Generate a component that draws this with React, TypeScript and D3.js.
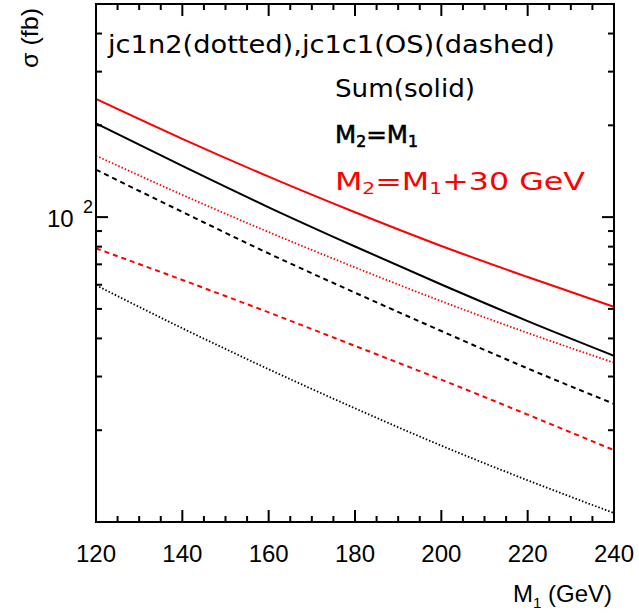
import React from "react";
import * as d3 from "d3";

const M1 = [120, 140, 160, 180, 200, 220, 240];
// M2 = M1 (black)
const blackDotted = [59.8, 43.2, 31.7, 23.6, 17.8, 13.7, 10.7];
const blackDashed = [143, 104, 76, 56.5, 42.3, 31.9, 24.4];
const blackSolid = [203, 147.2, 107.7, 80.1, 60.1, 45.6, 35.1];
// M2 = M1 + 30 GeV (red)
const redDotted = [159, 118.3, 89.3, 68.4, 53.0, 41.7, 33.3];
const redDashed = [79, 62.2, 48.7, 37.8, 29.3, 22.5, 17.2];
const redSolid = [244, 180.5, 135.7, 103.7, 80.4, 63.6, 50.8];

const xTickLabels = [120, 140, 160, 180, 200, 220, 240];
const yMinorTicks = [20, 30, 40, 50, 60, 70, 80, 90, 200, 300, 400];
const yMajorTick = 100;

const W = 639;
const H = 614;
const L = 96, R = 614, T = 4, B = 522;

export default function App() {
  const x = d3.scaleLinear().domain([120, 240]).range([L, R]);
  const y = d3.scaleLog().domain([10, 500]).range([B, T]);
  const line = (vals: number[]) =>
    d3
      .line<number>()
      .x((_, i) => x(M1[i]))
      .y((v) => y(v))
      .curve(d3.curveMonotoneX)(vals) || "";

  const series = [
    { vals: blackDotted, color: "black", dash: "1.5,2", w: 1.8 },
    { vals: blackDashed, color: "black", dash: "5,4", w: 2 },
    { vals: blackSolid, color: "black", dash: null, w: 2 },
    { vals: redDotted, color: "#ff0000", dash: "1.5,2", w: 1.8 },
    { vals: redDashed, color: "#ff0000", dash: "5,4", w: 2 },
    { vals: redSolid, color: "#ff0000", dash: null, w: 2 },
  ];

  const xMinor = d3.range(120, 241, 5);
  const axisFont = "'Liberation Sans', Arial, sans-serif";
  const legFont = "'DejaVu Sans', 'Liberation Sans', sans-serif";

  return (
    <svg
      width={W}
      height={H}
      style={{ position: "absolute", left: 0, top: 0, background: "white" }}
    >
      <rect x={0} y={0} width={W} height={H} fill="white" />
      <defs>
        <clipPath id="plot">
          <rect x={L} y={T} width={R - L} height={B - T} />
        </clipPath>
      </defs>
      <g clipPath="url(#plot)">
        {series.map((s, i) => (
          <path
            key={i}
            d={line(s.vals)}
            fill="none"
            stroke={s.color}
            strokeWidth={s.w}
            strokeDasharray={s.dash || undefined}
          />
        ))}
      </g>
      {/* ticks */}
      <g stroke="black" strokeWidth={2}>
        {xMinor.map((v) => {
          const len = v % 20 === 0 ? 12 : 6;
          return (
            <g key={v}>
              <line x1={x(v)} x2={x(v)} y1={B} y2={B - len} />
              <line x1={x(v)} x2={x(v)} y1={T} y2={T + len} />
            </g>
          );
        })}
        {yMinorTicks.map((v) => (
          <g key={v}>
            <line x1={L} x2={L + 6} y1={y(v)} y2={y(v)} />
            <line x1={R} x2={R - 6} y1={y(v)} y2={y(v)} />
          </g>
        ))}
        <line x1={L} x2={L + 12} y1={y(yMajorTick)} y2={y(yMajorTick)} />
        <line x1={R} x2={R - 12} y1={y(yMajorTick)} y2={y(yMajorTick)} />
      </g>
      <rect
        x={L}
        y={T}
        width={R - L}
        height={B - T}
        fill="none"
        stroke="black"
        strokeWidth={2}
      />
      {/* x tick labels */}
      {xTickLabels.map((v) => (
        <text
          key={v}
          x={x(v)}
          y={562}
          textAnchor="middle"
          fontFamily={axisFont}
          fontSize={24}
          fill="black"
        >
          {v}
        </text>
      ))}
      {/* y tick label 10^2 */}
      <text x={47} y={227} fontFamily={axisFont} fontSize={24} fill="black">
        10
      </text>
      <text x={83} y={213} fontFamily={axisFont} fontSize={18} fill="black">
        2
      </text>
      {/* axis titles */}
      <text
        x={612}
        y={602}
        textAnchor="end"
        fontFamily={axisFont}
        fontSize={24}
        fill="black"
      >
        M<tspan fontSize={15} dy={6}>1</tspan>
        <tspan dy={-6}> (GeV)</tspan>
      </text>
      <text
        transform="translate(38,38) rotate(-90)"
        textAnchor="middle"
        fontFamily={axisFont}
        fontSize={24}
        fill="black"
        textLength={60}
        lengthAdjust="spacingAndGlyphs"
      >
        σ (fb)
      </text>
      {/* legend text */}
      <text
        x={108}
        y={53}
        fontFamily={legFont}
        fontSize={25}
        fill="black"
        textLength={447}
        lengthAdjust="spacingAndGlyphs"
      >
        jc1n2(dotted),jc1c1(OS)(dashed)
      </text>
      <text
        x={335}
        y={97}
        fontFamily={legFont}
        fontSize={25}
        fill="black"
        textLength={140}
        lengthAdjust="spacingAndGlyphs"
      >
        Sum(solid)
      </text>
      <text
        x={335}
        y={143}
        fontFamily={legFont}
        fontSize={25}
        fill="black"
        stroke="black"
        strokeWidth={0.6}
        textLength={83}
        lengthAdjust="spacingAndGlyphs"
      >
        M<tspan fontSize={16} dy={4}>2</tspan>
        <tspan dy={-4}>=M</tspan>
        <tspan fontSize={16} dy={4}>1</tspan>
      </text>
      <text
        x={335}
        y={190}
        fontFamily={legFont}
        fontSize={25}
        fill="#ff0000"
        textLength={250}
        lengthAdjust="spacingAndGlyphs"
      >
        M<tspan fontSize={16} dy={4}>2</tspan>
        <tspan dy={-4}>=M</tspan>
        <tspan fontSize={16} dy={4}>1</tspan>
        <tspan dy={-4}>+30 GeV</tspan>
      </text>
    </svg>
  );
}
